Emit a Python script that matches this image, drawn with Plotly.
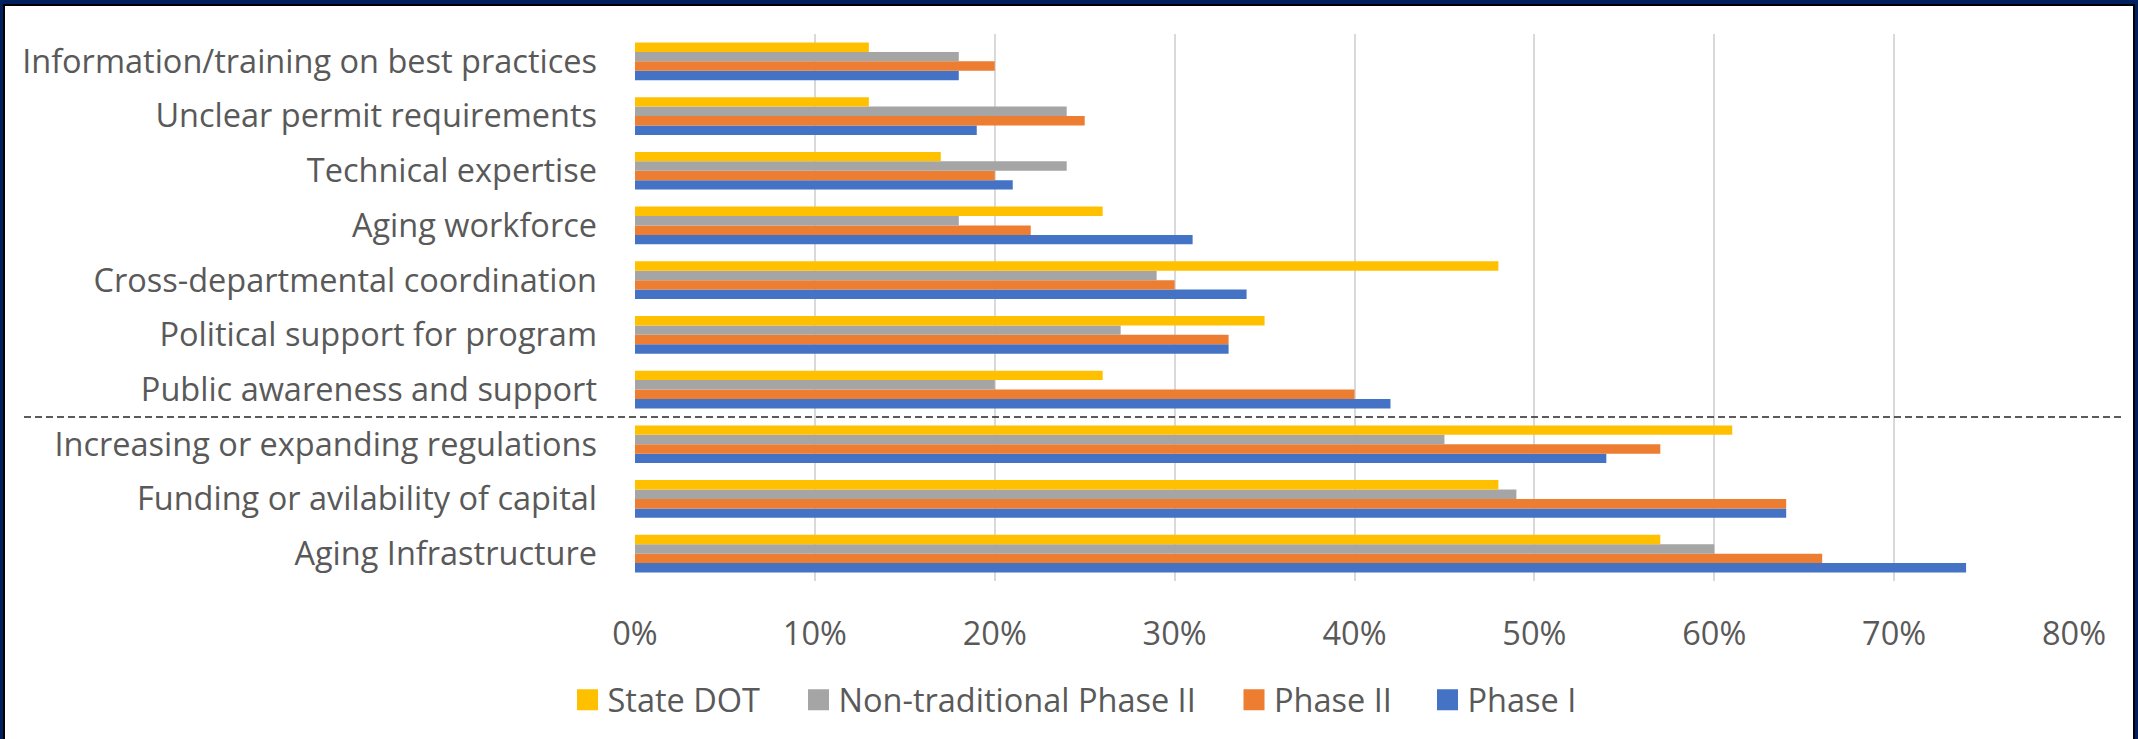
import plotly.graph_objects as go

categories = [
    "Aging Infrastructure",
    "Funding or avilability of capital",
    "Increasing or expanding regulations",
    "Public awareness and support",
    "Political support for program",
    "Cross-departmental coordination",
    "Aging workforce",
    "Technical expertise",
    "Unclear permit requirements",
    "Information/training on best practices",
]
phase_1 = [0.74, 0.64, 0.54, 0.42, 0.33, 0.34, 0.31, 0.21, 0.19, 0.18]
phase_2 = [0.66, 0.64, 0.57, 0.40, 0.33, 0.30, 0.22, 0.20, 0.25, 0.20]
non_trad_phase_2 = [0.60, 0.49, 0.45, 0.20, 0.27, 0.29, 0.18, 0.24, 0.24, 0.18]
state_dot = [0.57, 0.48, 0.61, 0.26, 0.35, 0.48, 0.26, 0.17, 0.13, 0.13]
x_ticks = [0, 0.1, 0.2, 0.3, 0.4, 0.5, 0.6, 0.7, 0.8]
x_tick_labels = ["0%", "10%", "20%", "30%", "40%", "50%", "60%", "70%", "80%"]

W, H = 2138, 739
L, R, T, B = 635, 64, 34, 157
pw, ph = W - L - R, H - T - B

def px(x):
    return (x - L) / pw

def py(y):
    return (H - B - y) / ph

FONT = "Open Sans"
TXT = "#595959"
FS = 32.5

fig = go.Figure()
series = [
    ("Phase I", phase_1, "#4472C4", "legend4", 1447.5),
    ("Phase II", phase_2, "#ED7D31", "legend3", 1254),
    ("Non-traditional Phase II", non_trad_phase_2, "#A5A5A5", "legend2", 818.5),
    ("State DOT", state_dot, "#FFC000", "legend", 587.5),
]
for name, vals, col, lg, _ in series:
    fig.add_trace(go.Bar(
        y=categories, x=vals, name=name, orientation="h",
        marker=dict(color=col, line=dict(width=0)),
        legendgroup=name, showlegend=False,
    ))
for name, vals, col, lg, _ in series:
    fig.add_trace(go.Scatter(
        x=[None], y=[None], mode="markers", name=name, legendgroup=name,
        marker=dict(symbol="square", size=16, color=col, line=dict(color=col, width=5)),
        showlegend=True, legend=lg,
    ))

shapes = [
    dict(type="line", xref="paper", yref="y", x0=px(24), x1=px(2122), y0=2.5, y1=2.5,
         line=dict(color="#262626", width=1.5, dash="7px,4px")),
    dict(type="rect", xref="paper", yref="paper", x0=px(1.5), x1=px(2136.5), y0=py(2), y1=py(780),
         line=dict(color="#002060", width=4), layer="above"),
    dict(type="rect", xref="paper", yref="paper", x0=px(4), x1=px(2134), y0=py(5), y1=py(780),
         line=dict(color="#000000", width=2), layer="above"),
]

legends = {}
for name, vals, col, lg, cx in series:
    legends[lg] = dict(orientation="h", x=px(cx - 20), xanchor="left",
                       y=py(700), yanchor="middle", itemsizing="trace",
                       font=dict(family=FONT, size=FS, color=TXT),
                       bgcolor="rgba(0,0,0,0)", borderwidth=0)

fig.update_layout(
    width=W, height=H,
    margin=dict(l=L, r=R, t=T, b=B, pad=0),
    paper_bgcolor="white", plot_bgcolor="white",
    barmode="group", bargap=0.31, bargroupgap=0,
    font=dict(family=FONT, size=FS, color=TXT),
    showlegend=True,
    xaxis=dict(range=[0, 0.8], tickvals=x_ticks, ticktext=x_tick_labels,
               showgrid=True, gridcolor="#D9D9D9", gridwidth=2,
               zeroline=False, showline=False, ticks="", ticklabelstandoff=30,
               tickfont=dict(family=FONT, size=FS, color=TXT), fixedrange=True),
    yaxis=dict(showgrid=False, zeroline=False, showline=False, ticks="",
               ticklabelstandoff=37, tickfont=dict(family=FONT, size=FS, color=TXT),
               categoryorder="array", categoryarray=categories, fixedrange=True),
    shapes=shapes,
    **legends,
)

fig.write_html("out.html", config={"displayModeBar": False},
               post_script="document.body.style.margin='0px';")
